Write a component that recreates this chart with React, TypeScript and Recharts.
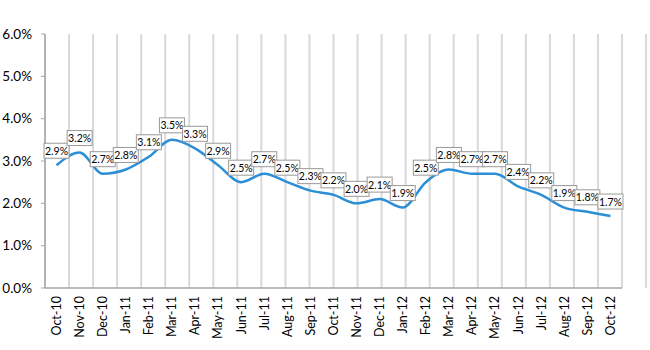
import { LineChart, Line, XAxis, YAxis, CartesianGrid, LabelList } from 'recharts'

const months = [
  'Oct-10', 'Nov-10', 'Dec-10', 'Jan-11', 'Feb-11', 'Mar-11', 'Apr-11', 'May-11', 'Jun-11',
  'Jul-11', 'Aug-11', 'Sep-11', 'Oct-11', 'Nov-11', 'Dec-11', 'Jan-12', 'Feb-12', 'Mar-12',
  'Apr-12', 'May-12', 'Jun-12', 'Jul-12', 'Aug-12', 'Sep-12', 'Oct-12',
]

const rates = [
  2.9, 3.2, 2.7, 2.8, 3.1, 3.5, 3.3, 2.9, 2.5, 2.7, 2.5, 2.3, 2.2,
  2.0, 2.1, 1.9, 2.5, 2.8, 2.7, 2.7, 2.4, 2.2, 1.9, 1.8, 1.7,
]

const yTicks = [0, 1, 2, 3, 4, 5, 6]

// boundaries between months, used for the vertical grid lines
const boundaries = months.map((_, i) => i).concat(months.length)

const data = months.map((m, i) => ({ month: m, rate: rates[i] }))

const FONT = 'Lato, "Open Sans", sans-serif'
const AXIS_GREY = '#a6a6a6'

function MonthTick({ x, y, payload }: any) {
  return (
    <text
      x={x}
      y={y}
      transform={`rotate(-90, ${x}, ${y})`}
      textAnchor="end"
      dy="0.35em"
      fontSize={12.5}
      fontFamily={FONT}
      fill="#000"
    >
      {payload.value}
    </text>
  )
}

function BoxLabel({ x, y, value }: any) {
  if (x == null || y == null) return null
  return (
    <g>
      <rect x={x - 12.5} y={y - 22} width={25} height={15} fill="#fff" stroke="#999" strokeWidth={1} />
      <text x={x} y={y - 14.5} textAnchor="middle" dy="0.38em" fontSize={10.5} fontFamily={FONT} fill="#000">
        {value.toFixed(1)}%
      </text>
    </g>
  )
}

export default function App() {
  return (
    <div style={{ position: 'absolute', left: 0, top: 0, width: 650, height: 350, background: '#fff' }}>
      <LineChart width={650} height={350} data={data} margin={{ top: 34, right: 28, bottom: 7, left: 0 }}>
        <CartesianGrid xAxisId="grid" horizontal={false} stroke="#d9d9d9" strokeWidth={2} />
        <XAxis
          xAxisId="grid"
          type="number"
          domain={[0, months.length]}
          ticks={boundaries}
          height={0}
          axisLine={false}
          tick={() => <g />}
          tickSize={5}
          tickLine={{ stroke: '#d9d9d9', strokeWidth: 2 }}
          allowDataOverflow
        />
        <XAxis
          dataKey="month"
          scale="band"
          interval={0}
          height={55}
          axisLine={{ stroke: AXIS_GREY, strokeWidth: 1.5 }}
          tickLine={false}
          tickSize={0}
          tickMargin={8}
          tick={<MonthTick />}
        />
        <YAxis
          width={45}
          domain={[0, 6]}
          ticks={yTicks}
          interval={0}
          tickFormatter={(v: number) => `${v.toFixed(1)}%`}
          axisLine={{ stroke: AXIS_GREY, strokeWidth: 1.5 }}
          tickLine={{ stroke: AXIS_GREY }}
          tickSize={4}
          tickMargin={9}
          tick={{ fontSize: 13.5, fontFamily: FONT, fill: '#000' }}
        />
        <Line
          type="monotone"
          dataKey="rate"
          stroke="#2a8fd6"
          strokeWidth={2.5}
          dot={false}
          isAnimationActive={false}
        >
          <LabelList dataKey="rate" content={<BoxLabel />} />
        </Line>
      </LineChart>
    </div>
  )
}
